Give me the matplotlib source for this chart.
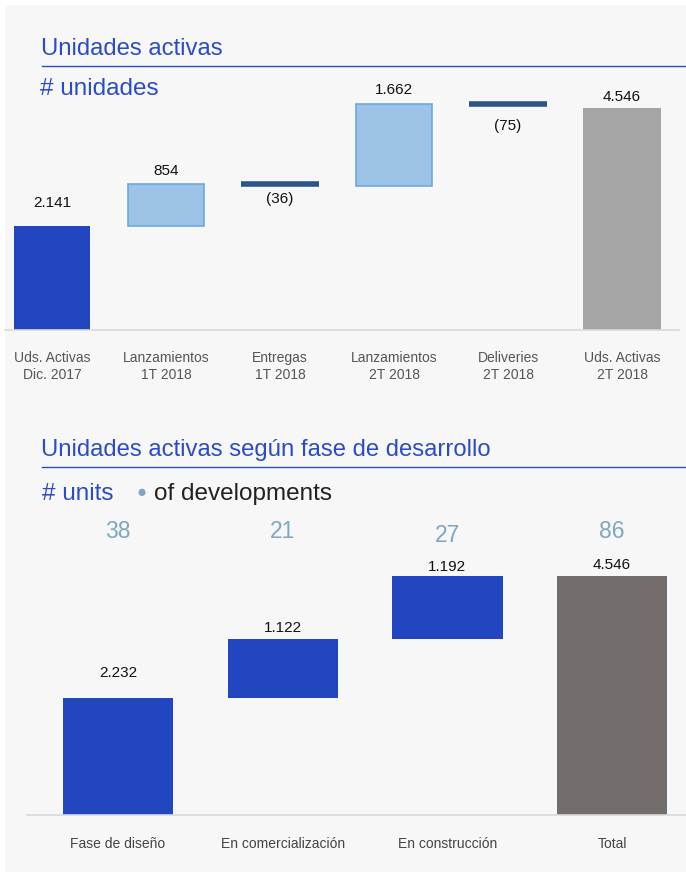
import matplotlib
matplotlib.use("Agg")
import matplotlib.pyplot as plt
from matplotlib.lines import Line2D

plt.rcParams['font.family'] = ['Liberation Sans', 'DejaVu Sans']

# ---- data ----
top_categories = ["Uds. Activas\nDic. 2017", "Lanzamientos\n1T 2018", "Entregas\n1T 2018",
                  "Lanzamientos\n2T 2018", "Deliveries\n2T 2018", "Uds. Activas\n2T 2018"]
top_values = [2141, 854, -36, 1662, -75, 4546]
top_labels = ["2.141", "854", "(36)", "1.662", "(75)", "4.546"]
top_kinds = ["start", "up", "down", "up", "down", "total"]

bot_categories = ["Fase de diseño", "En comercialización", "En construcción", "Total"]
bot_values = [2232, 1122, 1192, 4546]
bot_labels = ["2.232", "1.122", "1.192", "4.546"]
bot_kinds = ["up", "up", "up", "total"]
bot_developments = ["38", "21", "27", "86"]

# label offsets (pixels from bar top / line), style only
top_label_off = [23, 13, -15, 14, -22, 11]
bot_label_off = [25, 11, 9, 11]

W, H = 686, 877
fig = plt.figure(figsize=(W / 100, H / 100), dpi=100, facecolor="white")

def fx(px):
    return px / W

def fy(py):
    return 1 - py / H

# grey panel background
bg = fig.add_axes([fx(5), fy(872), fx(681), 867 / H], zorder=-10)
bg.set_facecolor("#f7f7f7")
bg.set_xticks([]); bg.set_yticks([])
for s in bg.spines.values():
    s.set_visible(False)

BLUE = "#2146c0"
TITLE_BLUE = "#2a4cc8"
LIGHT = "#9dc3e6"
LIGHT_EDGE = "#6fa8dc"
DARK_LINE = "#2d5587"
GREY_TOTAL = "#a5a5a5"
DARK_GREY = "#736e6c"
DOT = "#7fa8c0"

# ---- titles ----
fig.text(fx(41), fy(49), "Unidades activas", color=TITLE_BLUE, fontsize=17.2, va="center", ha="left")
fig.lines.append(Line2D([fx(42), fx(686)], [fy(66), fy(66)], transform=fig.transFigure,
                        color=TITLE_BLUE, lw=1))
fig.text(fx(40), fy(89), "# unidades", color=TITLE_BLUE, fontsize=17.5, va="center", ha="left")

fig.text(fx(41), fy(450), "Unidades activas según fase de desarrollo", color=TITLE_BLUE,
         fontsize=17.2, va="center", ha="left")
fig.lines.append(Line2D([fx(42), fx(686)], [fy(467), fy(467)], transform=fig.transFigure,
                        color=TITLE_BLUE, lw=1))
fig.text(fx(42), fy(494), "# units", color=TITLE_BLUE, fontsize=17.5, va="center", ha="left")
fig.text(fx(142), fy(492), "●", color=DOT, fontsize=12, va="center", ha="center")
fig.text(fx(154), fy(494), "of developments", color="#222222", fontsize=17.5, va="center", ha="left")

# ---- top waterfall ----
ax1 = fig.add_axes([fx(5.3), fy(330), fx(679 - 5.3), (330 - 100) / H])
ax1.set_facecolor("none")
ax1.set_xlim(-0.41, 5.5)
ax1.set_ylim(0, 230 / 0.0488)

def label(ax, x, y, text, off):
    ax.annotate(text, (x, y), xytext=(0, off), textcoords="offset pixels",
                ha="center", va="center", fontsize=11, color="#111111")

level = 0
for i, (v, lab, kind, off) in enumerate(zip(top_values, top_labels, top_kinds, top_label_off)):
    if kind == "start":
        ax1.bar(i, v, width=0.67, color=BLUE, zorder=2)
        level = v
        label(ax1, i, v, lab, off)
    elif kind == "up":
        ax1.bar(i, v, bottom=level, width=0.67, color=LIGHT, edgecolor=LIGHT_EDGE, lw=1.2, zorder=2)
        label(ax1, i, level + v, lab, off)
        level += v
    elif kind == "down":
        ax1.plot([i - 0.34, i + 0.34], [level, level], color=DARK_LINE, lw=4,
                 solid_capstyle="butt", zorder=2)
        label(ax1, i, level, lab, off)
        level += v
    else:
        ax1.bar(i, v, width=0.68, color=GREY_TOTAL, zorder=2)
        label(ax1, i, v, lab, off)
ax1.set_xticks(range(len(top_categories)))
ax1.set_xticklabels(top_categories, fontsize=10, color="#555555", linespacing=1.25)
ax1.tick_params(axis="x", length=0, pad=15)
ax1.set_yticks([])
for s in ["top", "left", "right"]:
    ax1.spines[s].set_visible(False)
ax1.spines["bottom"].set_color("#d9d9d9")
ax1.spines["bottom"].set_linewidth(1.2)

# ---- bottom waterfall ----
ax2 = fig.add_axes([fx(27), fy(815), fx(686 - 27), (815 - 560) / H])
ax2.set_facecolor("none")
ax2.set_xlim(-0.553, 3.449)
ax2.set_ylim(0, 255 / 0.05257)
level = 0
for i, (v, lab, kind, off) in enumerate(zip(bot_values, bot_labels, bot_kinds, bot_label_off)):
    if kind == "up":
        ax2.bar(i, v, bottom=level, width=0.67, color=BLUE, zorder=2)
        label(ax2, i, level + v, lab, off)
        level += v
    else:
        ax2.bar(i, v, width=0.67, color=DARK_GREY, zorder=2)
        label(ax2, i, v, lab, off)
ax2.set_xticks(range(len(bot_categories)))
ax2.set_xticklabels(bot_categories, fontsize=10, color="#444444")
ax2.tick_params(axis="x", length=0, pad=15.5)
ax2.set_yticks([])
for s in ["top", "left", "right"]:
    ax2.spines[s].set_visible(False)
ax2.spines["bottom"].set_color("#d9d9d9")
ax2.spines["bottom"].set_linewidth(1.2)

# development counts above columns
dev_y = [532, 532, 535, 532]
for i, (d, yy) in enumerate(zip(bot_developments, dev_y)):
    ax2.annotate(d, (i, 0), xycoords=("data", "figure fraction"),
                 xytext=(0, (H - yy)), textcoords="offset pixels",
                 color=DOT, fontsize=16.5, ha="center", va="center")

fig.savefig("out.png", dpi=100, facecolor="white")
